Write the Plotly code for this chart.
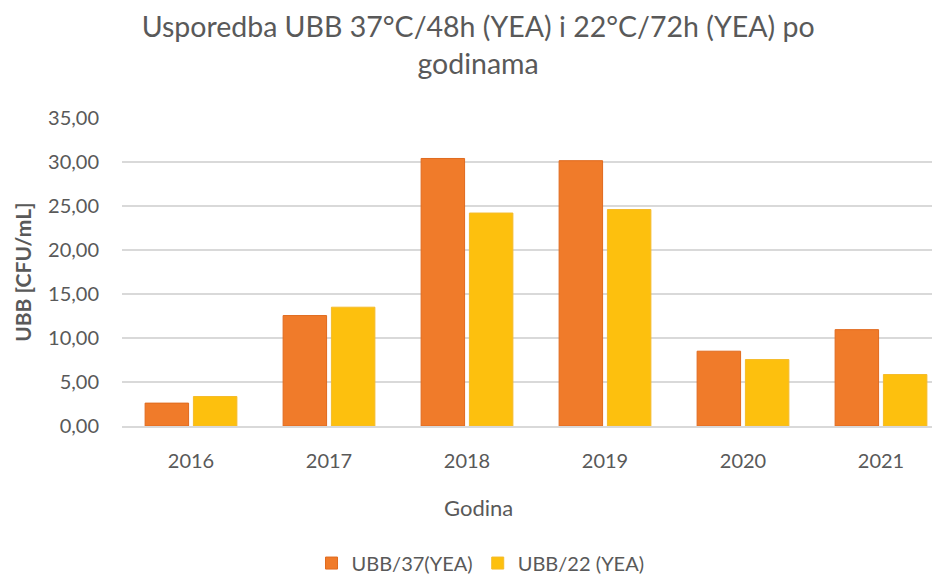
import plotly.graph_objects as go

# data
years = ["2016", "2017", "2018", "2019", "2020", "2021"]
ubb_37 = [2.6, 12.55, 30.4, 30.15, 8.5, 10.95]
ubb_22 = [3.35, 13.5, 24.2, 24.6, 7.55, 5.85]

font_name = "Lato, Open Sans, sans-serif"
grey = "#595959"

fig = go.Figure()
fig.add_trace(go.Bar(x=years, y=ubb_37, name="UBB/37(YEA)",
                     marker=dict(color="#F07B2A", line=dict(color="#E06A1E", width=1))))
fig.add_trace(go.Bar(x=years, y=ubb_22, name="UBB/22 (YEA)",
                     marker=dict(color="#FDC00E", line=dict(color="#F5BB2A", width=1))))

# page body adds an 8px offset; the original chart is cropped on the right,
# so the plot area runs a little past the window edge
fig.update_layout(
    width=944, height=568,
    margin=dict(l=114, r=2, t=110, b=150, autoexpand=False),
    paper_bgcolor="white", plot_bgcolor="white",
    separators=", ",
    font=dict(family=font_name, color=grey, size=20),
    title=dict(text="Usporedba UBB 37°C/48h (YEA) i 22°C/72h (YEA) po<br>godinama",
               x=0.498, xanchor="center", y=0.949, yanchor="top",
               font=dict(size=28.5, color=grey, family=font_name)),
    barmode="group", bargap=0.3, bargroupgap=0.1,
    showlegend=True,
    legend=dict(orientation="h", x=0.433, xanchor="center", y=-0.445, yanchor="middle",
                font=dict(size=20, color=grey), traceorder="normal"),
    annotations=[
        dict(text="Godina", xref="paper", yref="paper", x=0.431, y=-0.263,
             xanchor="center", yanchor="middle", showarrow=False,
             font=dict(size=22, color=grey)),
        dict(text="<b>UBB [CFU/mL]</b>", xref="paper", yref="paper", x=-0.121, y=0.5,
             xanchor="center", yanchor="middle", showarrow=False, textangle=-90,
             font=dict(size=21, color=grey)),
    ],
)
fig.update_xaxes(
    showline=True, linecolor="#D9D9D9", linewidth=1.5,
    ticks="outside", ticklen=16, tickcolor="white",
    tickfont=dict(size=20, color=grey),
)
fig.update_yaxes(
    range=[0, 35], dtick=5, tickformat=".2f",
    showgrid=True, gridcolor="#D9D9D9", gridwidth=1.5,
    zeroline=False,
    ticks="outside", ticklen=18, tickcolor="white",
    tickfont=dict(size=20, color=grey),
)

fig.write_html("out.html")
